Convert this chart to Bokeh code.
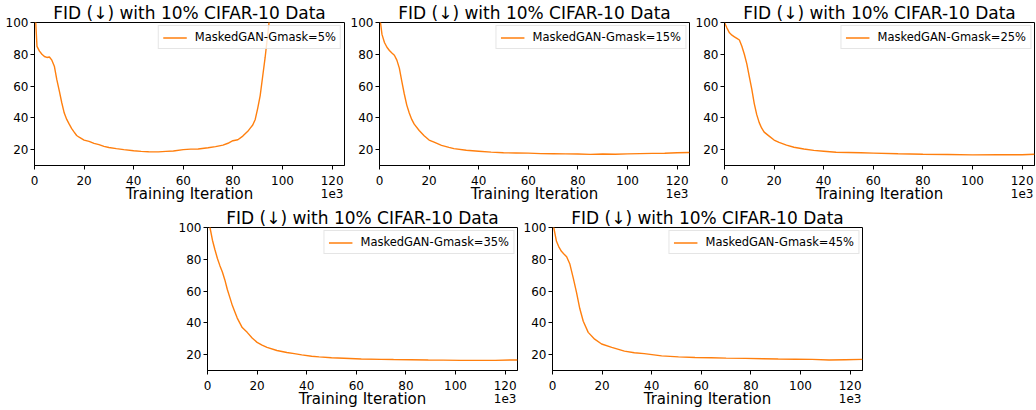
from bokeh.plotting import figure
from bokeh.layouts import column, row
from bokeh.models import Spacer, Range1d
from bokeh.embed import file_html
from bokeh.resources import INLINE

TITLE = "FID (↓) with 10% CIFAR-10 Data"
XLABEL = "Training Iteration"
X_TICKS = [0, 20, 40, 60, 80, 100, 120]
Y_TICKS = [20, 40, 60, 80, 100]
X_SCALE_NOTE = "1e3"
COLOR = "#ff7f0e"
FONT = "DejaVu Sans"

# Gmask = 5%
iter_5 = [0, 0.5, 1, 2, 3, 4, 5, 6, 7, 8, 9, 10, 11, 12, 13, 14, 15, 16, 17, 18, 20, 22, 24, 26, 28,
          30, 33, 36, 40, 43, 46, 50, 53, 56, 60, 63, 66, 70, 73, 76, 78, 80, 82, 84, 86, 87, 88, 89,
          90, 91, 92, 93, 94, 95]
fid_5 = [150, 100, 85, 82, 80, 78.6, 78, 78.3, 76.3, 72.5, 64, 57, 49.5, 43, 39, 36, 33.2, 31, 28.9, 27.8, 26,
         25.2, 23.9, 23.1, 22, 21.3, 20.6, 20, 19.3, 18.9, 18.7, 18.6, 18.9, 19.1, 20, 20.3, 20.4, 21.2,
         21.9, 22.8, 24, 25.6, 26.2, 28.5, 31.5, 33.5, 35.5, 39, 46, 54, 66, 78, 92, 106]

# Gmask = 15%
iter_15 = [0, 0.4, 1, 2, 3, 4, 5, 6, 7, 8, 9, 10, 11, 12, 13, 14, 16, 18, 20, 22, 25, 28, 30, 35, 40,
           45, 50, 55, 60, 65, 70, 75, 80, 85, 90, 95, 100, 105, 110, 115, 120, 125]
fid_15 = [130, 100, 92.5, 87.4, 84.4, 82.4, 80.8, 79.4, 76.3, 71.3, 63, 55, 48, 43, 39, 36, 32, 28.7,
          26, 24.7, 22.7, 21.4, 20.6, 19.6, 19, 18.4, 18, 17.9, 17.8, 17.5, 17.4, 17.3, 17.2, 17,
          17.2, 17.1, 17.3, 17.5, 17.6, 17.7, 18, 18.2]

# Gmask = 25%
iter_25 = [0, 1, 2, 3, 4, 5, 6, 7, 8, 9, 10, 11, 12, 13, 14, 15, 16, 18, 20, 22, 25, 28, 32, 36, 40,
           45, 50, 55, 60, 70, 80, 90, 100, 110, 120, 125]
fid_25 = [100, 96.5, 93.5, 92, 91, 90, 89, 85, 80, 74, 66, 58, 49, 42, 37, 33.5, 31, 28.5, 26, 24.5,
          22.8, 21.5, 20.4, 19.5, 19, 18.3, 18.2, 18, 17.8, 17.4, 17.1, 16.9, 16.7, 16.8, 16.8, 17.1]

# Gmask = 35%
iter_35 = [0, 1, 2, 3, 4, 5, 6, 7, 8, 9, 10, 11, 12, 13, 14, 16, 18, 20, 22, 24, 28, 32, 35, 38, 42,
           45, 50, 55, 62, 70, 75, 82, 89, 95, 102, 110, 116, 122, 125]
fid_35 = [115, 100, 92, 86, 80.5, 76, 72, 67, 61, 56, 51, 47, 43, 40, 37, 34, 30.5, 27.7, 26, 24.6,
          22.6, 21.3, 20.6, 19.8, 19, 18.6, 18, 17.7, 17.2, 17, 16.9, 16.8, 16.6, 16.5, 16.4, 16.4,
          16.4, 16.6, 16.6]

# Gmask = 45%
iter_45 = [0, 0.5, 1.6, 2.5, 3.6, 4.5, 5.7, 7, 8.4, 9.7, 11, 12.4, 14.4, 17, 19.8, 23.9, 29, 33, 37,
           44, 50.8, 57.5, 64, 70, 77.8, 85, 91, 98, 104.7, 111.5, 118, 125]
fid_45 = [110, 100, 91.3, 88, 85, 83.5, 81.6, 77, 68, 59, 49, 41, 34, 29.7, 26.7, 24.6, 22.2, 21.2,
          20.6, 19.2, 18.6, 18.2, 18, 17.8, 17.6, 17.4, 17.2, 17.1, 17, 16.6, 16.8, 17]

SERIES = [
    (iter_5, fid_5, "MaskedGAN-Gmask=5%"),
    (iter_15, fid_15, "MaskedGAN-Gmask=15%"),
    (iter_25, fid_25, "MaskedGAN-Gmask=25%"),
    (iter_35, fid_35, "MaskedGAN-Gmask=35%"),
    (iter_45, fid_45, "MaskedGAN-Gmask=45%"),
]


def make(xs, ys, name, width):
    p = figure(width=width, height=205, x_range=Range1d(0, 125), y_range=Range1d(10, 100),
               output_backend="svg", toolbar_location=None,
               min_border_left=34, min_border_right=width - 344, min_border_top=21, min_border_bottom=30)
    p.title.text = TITLE
    p.title.align = "center"
    p.title.text_font = FONT
    p.title.text_font_size = "17px"
    p.title.text_font_style = "normal"
    p.title.text_color = "black"
    p.title.standoff = 0
    p.title.offset = 0

    p.line(xs, ys, color=COLOR, line_width=1.4, legend_label=name)

    for ax in (p.xaxis[0], p.yaxis[0]):
        ax.major_tick_in = 0
        ax.major_tick_out = 4
        ax.minor_tick_line_color = None
        ax.axis_line_color = "black"
        ax.major_tick_line_color = "black"
        ax.major_label_text_font = FONT
        ax.major_label_text_font_size = "12px"
        ax.major_label_text_color = "black"
        ax.major_label_standoff = 2
    p.xaxis.major_label_standoff = 4
    p.xaxis.major_label_text_line_height = 0.95
    p.xaxis.ticker = X_TICKS
    p.yaxis.ticker = Y_TICKS
    # the "1e3" offset note sits under the last tick label, as a second line
    p.xaxis.major_label_overrides = {X_TICKS[-1]: f"{X_TICKS[-1]}\n{X_SCALE_NOTE}"}
    p.xaxis.axis_label = XLABEL
    p.xaxis.axis_label_text_font = FONT
    p.xaxis.axis_label_text_font_size = "15px"
    p.xaxis.axis_label_text_font_style = "normal"
    p.xaxis.axis_label_text_color = "black"
    p.xaxis.axis_label_text_line_height = 1.0
    p.xaxis.axis_label_standoff = -19
    p.xgrid.visible = False
    p.ygrid.visible = False
    p.outline_line_color = "black"
    p.outline_line_alpha = 1.0
    p.outline_line_width = 1

    lg = p.legend[0]
    lg.location = "top_right"
    lg.margin = 3
    lg.padding = 4
    lg.label_text_font = FONT
    lg.label_text_font_size = "11.5px"
    lg.label_text_color = "black"
    lg.label_height = 13
    lg.glyph_height = 13
    lg.glyph_width = 24
    lg.label_standoff = 8
    lg.border_line_color = "#cccccc"
    lg.border_line_width = 1
    lg.background_fill_alpha = 0.8
    return p


figs = [
    make(*SERIES[0], 345),
    make(*SERIES[1], 345),
    make(*SERIES[2], 346),
    make(*SERIES[3], 345),
    make(*SERIES[4], 345),
]
layout = column(
    row(figs[0], figs[1], figs[2]),
    row(Spacer(width=173, height=205), figs[3], figs[4]),
)

open("out.html", "w").write(file_html(layout, INLINE))
